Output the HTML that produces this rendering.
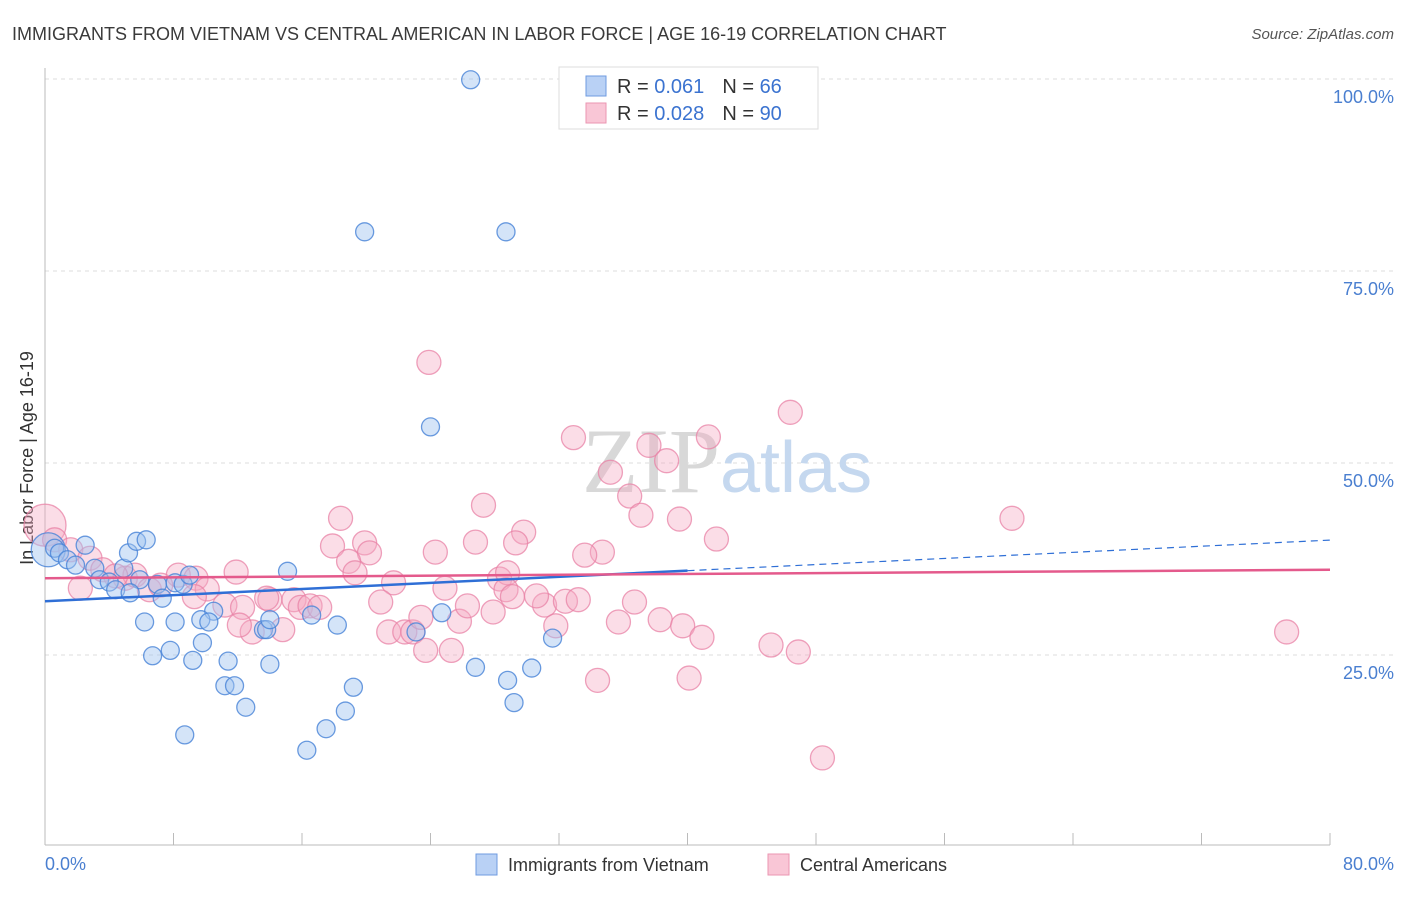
<!DOCTYPE html>
<html><head><meta charset="utf-8"><style>
body{margin:0;background:#fff;font-family:"Liberation Sans",sans-serif}
</style></head><body>
<svg id="c" width="1406" height="892" xmlns="http://www.w3.org/2000/svg" style="font-family:'Liberation Sans',sans-serif">
<text x="12" y="40" font-size="18" fill="#3a3a3a">IMMIGRANTS FROM VIETNAM VS CENTRAL AMERICAN IN LABOR FORCE | AGE 16-19 CORRELATION CHART</text>
<text x="1394" y="39" font-size="15" fill="#555" font-style="italic" text-anchor="end">Source: ZipAtlas.com</text>
<text transform="translate(33,458) rotate(-90)" font-size="18" fill="#333" text-anchor="middle">In Labor Force | Age 16-19</text>
<g id="grid"></g>
<text x="720" y="492" font-size="92" fill="#d8d8d8" font-family="Liberation Serif" text-anchor="end">ZIP</text>
<text x="720" y="492" font-size="72" fill="#c5d8ef">atlas</text>
<g id="pts"></g>
<g id="lines"></g>
<g>
<rect x="559" y="67" width="259" height="62" fill="#fff" stroke="#ddd"/>
<rect x="586" y="76" width="20" height="20" fill="#b9d1f5" stroke="#6f9be0"/>
<rect x="586" y="103" width="20" height="20" fill="#f9c6d6" stroke="#eb96b2"/>
<text x="617" y="93" font-size="20" fill="#333">R = <tspan fill="#3b73d0"> 0.061</tspan><tspan dx="18" fill="#333">N = </tspan><tspan fill="#3b73d0">66</tspan></text>
<text x="617" y="120" font-size="20" fill="#333">R = <tspan fill="#3b73d0">0.028</tspan><tspan dx="18" fill="#333">N = </tspan><tspan fill="#3b73d0">90</tspan></text>
</g>
<text x="45" y="870" font-size="18" fill="#4a7fd0">0.0%</text>
<text x="1394" y="870" font-size="18" fill="#4a7fd0" text-anchor="end">80.0%</text>
<rect x="476" y="854" width="21" height="21" fill="#b9d1f5" stroke="#6f9be0"/>
<text x="508" y="871" font-size="18" fill="#333">Immigrants from Vietnam</text>
<rect x="768" y="854" width="21" height="21" fill="#f9c6d6" stroke="#eb96b2"/>
<text x="800" y="871" font-size="18" fill="#333">Central Americans</text>
</svg>
<script>
const yTicks=[25,50,75,100];
const yTickLabels=["25.0%","50.0%","75.0%","100.0%"];
const blueX=[26.5,19.9,28.7,24.0,0.2,0.6,0.9,1.4,1.9,2.5,3.1,3.4,4.0,4.4,4.9,5.2,5.7,6.3,5.9,5.3,7.0,7.3,8.1,8.6,9.0,6.2,8.1,10.5,9.7,10.2,9.8,6.7,7.8,9.2,11.4,11.2,11.8,8.7,12.5,13.6,13.8,14.0,14.0,15.1,16.6,18.2,19.2,18.7,17.5,16.3,23.1,24.7,26.8,28.8,29.2,30.3,31.6];
const blueY=[99.9,80.1,80.1,54.7,38.7,38.9,38.3,37.4,36.7,39.3,36.3,34.8,34.5,33.5,36.3,38.3,39.8,40.0,34.8,33.1,34.2,32.4,34.4,34.2,35.4,29.3,29.3,30.7,29.6,29.3,26.6,24.9,25.6,24.3,24.2,21.0,21.0,14.6,18.2,28.3,28.3,29.6,23.8,35.9,30.2,28.9,20.8,17.7,15.4,12.6,28.0,30.5,23.4,21.7,18.8,23.3,27.2];
const pinkX=[23.9,46.4,32.9,41.3,37.6,38.7,35.2,36.4,37.1,39.5,27.3,18.4,60.2,41.8,29.8,29.3,26.8,17.9,19.9,20.2,18.9,24.3,34.7,33.6,0,0.6,1.6,2.8,3.6,2.2,5.0,5.6,6.5,8.3,9.4,10.1,11.9,9.3,11.2,12.3,12.9,14.0,15.5,15.9,16.5,17.1,13.8,14.8,19.3,21.7,20.9,21.4,22.4,22.9,23.4,24.9,25.8,26.3,27.9,28.3,28.8,28.7,29.1,31.1,30.6,31.8,32.4,33.2,23.7,25.3,34.4,35.7,36.7,38.3,39.7,40.9,40.1,45.2,46.9,48.4,77.3,12.1,7.2,4.4];
const pinkY=[63.1,56.6,53.3,53.4,52.3,50.3,48.8,45.7,43.2,42.7,44.5,42.8,42.8,40.1,41.0,39.6,39.7,39.2,39.6,38.3,37.2,38.4,38.4,38.0,41.9,40.0,38.7,37.6,36.1,33.7,35.0,35.4,33.5,35.4,35.0,33.6,35.8,32.6,31.5,31.2,28.0,32.2,32.2,31.2,31.4,31.2,32.4,28.3,35.7,34.4,31.9,28.0,28.0,28.0,29.9,33.7,29.4,31.4,30.6,34.9,35.7,33.5,32.6,31.5,32.7,28.8,32.0,32.2,25.6,25.6,21.7,29.3,31.9,29.6,28.8,27.3,22.0,26.3,25.4,11.6,28.0,28.9,34.1,35.3];
const blueTrend=[32.0,0.0995];
const pinkTrend=[35.0,0.0138];
const NS="http://www.w3.org/2000/svg";
const X0=45,X1=1330,Y0=847,YS=7.68;
const sx=v=>X0+v/80*(X1-X0);
const sy=v=>Y0-v*YS;
function mk(t,a,p){const e=document.createElementNS(NS,t);for(const k in a)e.setAttribute(k,a[k]);p.appendChild(e);return e;}
const grid=document.getElementById('grid');
yTicks.forEach((t,i)=>{
 const l=mk('line',{x1:45,x2:1394,y1:sy(t),y2:sy(t),stroke:'#ddd','stroke-dasharray':'4,4'},grid);
 
 
 const tx=mk('text',{x:1394,y:sy(t)+24,'font-size':18,fill:'#4a7fd0','text-anchor':'end'},grid);
 tx.textContent=yTickLabels[i];
 
 
});
const ax=mk('line',{x1:45,x2:45,y1:68,y2:845,stroke:'#bbb'},grid);


const bx=mk('line',{x1:45,x2:1330,y1:845,y2:845,stroke:'#bbb'},grid);


for(let i=0;i<=10;i++){const t=mk('line',{x1:sx(i*8),x2:sx(i*8),y1:833,y2:845,stroke:'#bbb'},grid);
 
 }
const pts=document.getElementById('pts');
pinkX.forEach((x,i)=>{const c=mk('circle',{cx:sx(x),cy:sy(pinkY[i]),r:i==24?21:12,fill:'rgba(246,170,196,0.4)',stroke:'rgba(232,130,165,0.75)','stroke-width':1.3},pts);
 
 });
blueX.forEach((x,i)=>{const c=mk('circle',{cx:sx(x),cy:sy(blueY[i]),r:i==4?17:9,fill:'rgba(160,195,240,0.45)',stroke:'rgba(70,130,215,0.8)','stroke-width':1.3},pts);
 
 });
const lines=document.getElementById('lines');
const bt=x=>blueTrend[0]+blueTrend[1]*x, pt=x=>pinkTrend[0]+pinkTrend[1]*x;
let l1=mk('line',{x1:sx(0),y1:sy(bt(0)),x2:sx(40),y2:sy(bt(40)),stroke:'#2f6fd6','stroke-width':2.5},lines);


let l2=mk('line',{x1:sx(40),y1:sy(bt(40)),x2:sx(80),y2:sy(bt(80)),stroke:'#2f6fd6','stroke-width':1.2,'stroke-dasharray':'7,5'},lines);


let l3=mk('line',{x1:sx(0),y1:sy(pt(0)),x2:sx(80),y2:sy(pt(80)),stroke:'#e45a8c','stroke-width':2.5},lines);


</script>
</body></html>
